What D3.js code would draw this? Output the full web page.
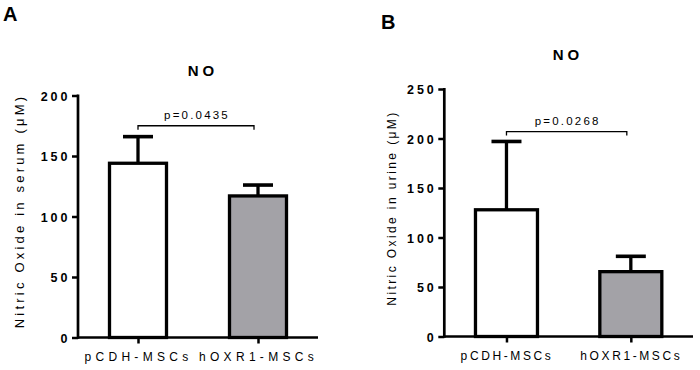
<!DOCTYPE html>
<html>
<head>
<meta charset="utf-8">
<script src="https://cdn.jsdelivr.net/npm/d3@7"></script>
<style>
  html, body { margin: 0; padding: 0; background: #fff; }
  svg { display: block; font-family: "Liberation Sans", Arial, sans-serif; }
</style>
</head>
<body>
<svg id="chart" width="700" height="370"></svg>
<script>
// ---- data ----
const groups = ["pCDH-MSCs", "hOXR1-MSCs"];
const serumMean = [144, 117];
const serumErr = [22, 9];
const urineMean = [128, 65.5];
const urineErr = [69, 15.5];
const serumTicks = [0, 50, 100, 150, 200];
const urineTicks = [0, 50, 100, 150, 200, 250];
const pValues = ["p=0.0435", "p=0.0268"];
const bracketLevels = [175, 207];
const panelLetters = ["A", "B"];
const titles = ["NO", "NO"];
const yLabels = ["Nitric Oxide in serum (\u03BCM)", "Nitric Oxide in urine (\u03BCM)"];
const barFills = ["#ffffff", "#a3a2a7"];

const svg = d3.select("#chart");

function panel(cfg) {
  const g = svg.append("g");
  const y = d3.scaleLinear().domain(cfg.domain).range([cfg.y0, cfg.y1]);
  const x = d3.scalePoint().domain(groups).range([cfg.x0, cfg.x1]).padding(0.5);

  // letter
  g.append("text").attr("x", cfg.letterX).attr("y", cfg.letterY)
    .attr("font-size", 20).attr("font-weight", "bold").text(cfg.letter);
  // title
  g.append("text").attr("x", cfg.titleX).attr("y", cfg.titleY)
    .attr("text-anchor", "middle").attr("font-size", 15).attr("font-weight", "bold")
    .attr("letter-spacing", 4).text(cfg.title);

  // bars
  const bw = cfg.barW;
  g.selectAll("rect.bar").data(groups).join("rect")
    .attr("x", d => x(d) - bw / 2 + 1.5)
    .attr("width", bw - 3)
    .attr("y", (d, i) => y(cfg.mean[i]))
    .attr("height", (d, i) => y(0) - y(cfg.mean[i]))
    .attr("fill", (d, i) => barFills[i])
    .attr("stroke", "#000").attr("stroke-width", 3.3);

  // error bars
  groups.forEach((d, i) => {
    const top = y(cfg.mean[i] + cfg.err[i]);
    g.append("line").attr("x1", x(d)).attr("x2", x(d))
      .attr("y1", y(cfg.mean[i])).attr("y2", top)
      .attr("stroke", "#000").attr("stroke-width", 3.3);
    g.append("line").attr("x1", x(d) - 15).attr("x2", x(d) + 15)
      .attr("y1", top).attr("y2", top)
      .attr("stroke", "#000").attr("stroke-width", 3.6);
  });

  // y axis
  const yAxis = g.append("g").attr("transform", `translate(${cfg.x0},0)`)
    .call(d3.axisLeft(y).tickValues(cfg.ticks).tickSize(6).tickPadding(1.5).tickFormat(d3.format("d")));
  yAxis.select(".domain").attr("stroke-width", 2.7).attr("d", `M0,${y(0) + 1.3}V${y(cfg.domain[1]) - 1}`);
  yAxis.selectAll(".tick line").attr("stroke-width", 2.5);
  yAxis.selectAll(".tick text").attr("font-size", 12.5).attr("font-weight", "bold")
    .attr("letter-spacing", 3).attr("font-family", "Liberation Sans, Arial, sans-serif")
    .attr("dy", "0.36em").attr("fill", "#000");

  // x axis
  const xAxis = g.append("g").attr("transform", `translate(0,${cfg.y0})`)
    .call(d3.axisBottom(x).tickSize(6).tickPadding(7));
  xAxis.select(".domain").attr("stroke-width", 2.7).attr("d", `M${cfg.x0},0H${cfg.x1}`);
  xAxis.selectAll(".tick line").attr("stroke-width", 2.5);
  xAxis.selectAll(".tick text").attr("font-size", 12)
    .attr("letter-spacing", cfg.xSpacing).attr("font-family", "Liberation Sans, Arial, sans-serif")
    .attr("fill", "#000").attr("dy", "0.9em");

  // y label
  g.append("text")
    .attr("transform", `translate(${cfg.ylabX},${cfg.ylabY}) rotate(-90)`)
    .attr("text-anchor", "middle").attr("font-size", cfg.ylabSize)
    .attr("letter-spacing", cfg.ylabSpacing).text(cfg.ylabel);

  // significance bracket
  const by = y(cfg.bracket);
  const bx1 = x(groups[0]), bx2 = x(groups[1]) - 4;
  g.append("path")
    .attr("d", `M${bx1},${by + 4}V${by}H${bx2}V${by + 4}`)
    .attr("fill", "none").attr("stroke", "#000").attr("stroke-width", 1.3);
  g.append("text").attr("x", (bx1 + bx2) / 2 + 1).attr("y", by - 7)
    .attr("text-anchor", "middle").attr("font-size", 11.5)
    .attr("letter-spacing", 2.2).text(cfg.p);
}

panel({
  letter: panelLetters[0], letterX: 3, letterY: 21,
  title: titles[0], titleX: 203, titleY: 76,
  domain: [0, 200], ticks: serumTicks, y0: 337.5, y1: 95.5,
  x0: 78, x1: 318, barW: 60,
  mean: serumMean, err: serumErr,
  ylabel: yLabels[0], ylabX: 24, ylabY: 211, ylabSize: 13, ylabSpacing: 3.2,
  xSpacing: 4.3,
  bracket: bracketLevels[0], p: pValues[0]
});

panel({
  letter: panelLetters[1], letterX: 381, letterY: 29,
  title: titles[1], titleX: 568, titleY: 60,
  domain: [0, 250], ticks: urineTicks, y0: 336.5, y1: 89,
  x0: 444.3, x1: 693, barW: 65,
  mean: urineMean, err: urineErr,
  ylabel: yLabels[1], ylabX: 396, ylabY: 208, ylabSize: 12, ylabSpacing: 2.4,
  xSpacing: 2.6,
  bracket: bracketLevels[1], p: pValues[1]
});
</script>
</body>
</html>
